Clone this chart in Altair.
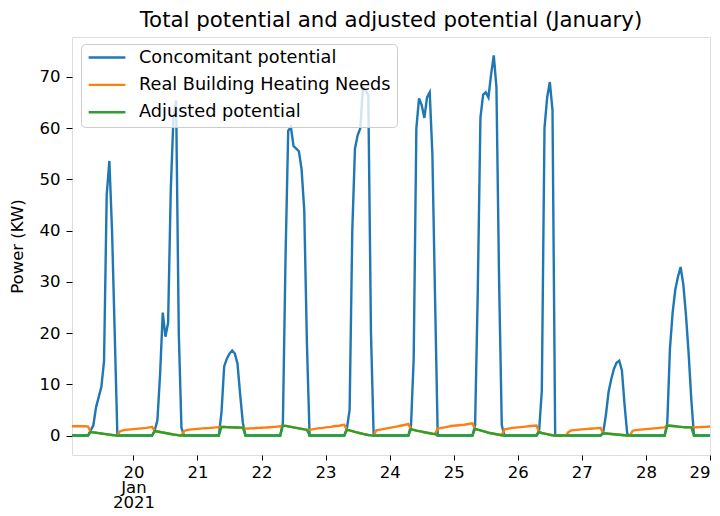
import altair as alt
import pandas as pd

series_names = ["Concomitant potential", "Real Building Heating Needs", "Adjusted potential"]
series_colors = ["#1f77b4", "#ff7f0e", "#2ca02c"]

start_time = "2021-01-19 01:00"

# Hourly values. One row per day: Jan 19 starts at 01:00, Jan 29 only has 00:00.
concomitant = [
    0, 0, 0, 0, 0, 0, 0, 1.0, 2.0, 5.5, 7.5, 9.5, 14.5, 47, 53.6, 40, 20, 0, 0, 0, 0, 0, 0,
    0, 0, 0, 0, 0, 0, 0, 0, 1.0, 3, 12, 24, 19.3, 22, 48, 62, 65.4, 20, 1.5, 0, 0, 0, 0, 0,
    0, 0, 0, 0, 0, 0, 0, 0, 0, 4.5, 13.5, 15, 16, 16.6, 16, 14, 8, 2.5, 0, 0, 0, 0, 0, 0,
    0, 0, 0, 0, 0, 0, 0, 0, 2.5, 35, 59.5, 60.2, 56.5, 56, 55.5, 52, 44, 18, 0, 0, 0, 0, 0, 0,
    0, 0, 0, 0, 0, 0, 0, 0, 1.5, 5, 40, 56, 58.6, 60, 68, 67.4, 66.4, 20, 0, 0, 0, 0, 0, 0,
    0, 0, 0, 0, 0, 0, 0, 0, 2.0, 15, 60, 65.8, 64.5, 62, 66, 67, 55, 27, 0, 0, 0, 0, 0, 0,
    0, 0, 0, 0, 0, 0, 0, 0, 2.0, 28, 62, 66.5, 67, 66, 70.5, 74.2, 68, 30, 2, 0, 0, 0, 0, 0,
    0, 0, 0, 0, 0, 0, 0, 0, 1.0, 8.8, 60, 66, 69, 63.5, 0, 0, 0, 0, 0, 0, 0, 0, 0, 0,
    0, 0, 0, 0, 0, 0, 0, 0, 0.6, 4, 8.5, 11, 13, 14.2, 14.6, 12.7, 6, 0.3, 0, 0, 0, 0, 0, 0,
    0, 0, 0, 0, 0, 0, 0, 0, 2.5, 17, 24, 28.5, 31, 32.9, 29.5, 23.5, 16, 7, 0, 0, 0, 0, 0, 0,
    0,
]

heating_needs = [
    1.8, 1.8, 1.8, 1.8, 1.8, 1.8, 1.75, 0.7, 0.62, 0.55, 0.47, 0.4, 0.32, 0.25, 0.17, 0.1, 0.03, 0.0, 0.85, 1.0, 1.1, 1.15, 1.2,
    1.25, 1.3, 1.35, 1.4, 1.45, 1.5, 1.6, 1.7, 0.85, 0.78, 0.7, 0.6, 0.5, 0.4, 0.3, 0.2, 0.12, 0.05, 0.02, 0.9, 1.05, 1.15, 1.2, 1.25,
    1.3, 1.35, 1.4, 1.42, 1.45, 1.5, 1.55, 1.6, 1.65, 1.68, 1.66, 1.64, 1.62, 1.6, 1.58, 1.56, 1.55, 1.55, 1.35, 1.38, 1.4, 1.43, 1.46, 1.5,
    1.52, 1.55, 1.58, 1.62, 1.66, 1.7, 1.75, 1.8, 1.95, 1.88, 1.8, 1.7, 1.6, 1.5, 1.4, 1.3, 1.2, 1.12, 1.1, 1.2, 1.3, 1.4, 1.45, 1.5,
    1.6, 1.65, 1.7, 1.8, 1.85, 1.9, 2.0, 2.1, 1.1, 1.0, 0.85, 0.7, 0.58, 0.45, 0.32, 0.2, 0.1, 0.04, 0.0, 1.0, 1.1, 1.2, 1.3, 1.4,
    1.5, 1.6, 1.7, 1.8, 1.9, 2.0, 2.1, 2.25, 1.25, 1.1, 0.95, 0.85, 0.75, 0.65, 0.55, 0.45, 0.35, 0.3, 1.35, 1.45, 1.55, 1.65, 1.75, 1.85,
    1.9, 1.95, 2.0, 2.05, 2.1, 2.2, 2.3, 2.4, 1.3, 1.15, 1.0, 0.85, 0.7, 0.55, 0.45, 0.35, 0.25, 0.15, 0.05, 1.2, 1.3, 1.4, 1.5, 1.55,
    1.6, 1.65, 1.7, 1.75, 1.8, 1.85, 1.9, 1.95, 0.65, 0.5, 0.38, 0.26, 0.15, 0.06, 0.0, 0.0, 0.0, 0.0, 0.0, 0.7, 1.0, 1.05, 1.1, 1.15,
    1.2, 1.25, 1.3, 1.33, 1.36, 1.4, 1.45, 1.5, 0.45, 0.4, 0.35, 0.3, 0.25, 0.2, 0.15, 0.1, 0.05, 0.0, 0.0, 0.9, 1.05, 1.1, 1.15, 1.2,
    1.25, 1.3, 1.35, 1.4, 1.45, 1.5, 1.55, 1.6, 1.95, 1.9, 1.85, 1.8, 1.75, 1.7, 1.65, 1.62, 1.6, 1.6, 1.6, 1.62, 1.65, 1.68, 1.7, 1.72,
    1.75,
]

adjusted = [
    0, 0, 0, 0, 0, 0, 0, 0.7, 0.62, 0.55, 0.47, 0.4, 0.32, 0.25, 0.17, 0.1, 0.03, 0, 0, 0, 0, 0, 0,
    0, 0, 0, 0, 0, 0, 0, 0, 0.85, 0.78, 0.7, 0.6, 0.5, 0.4, 0.3, 0.2, 0.12, 0.05, 0.02, 0, 0, 0, 0, 0,
    0, 0, 0, 0, 0, 0, 0, 0, 0, 1.68, 1.66, 1.64, 1.62, 1.6, 1.58, 1.56, 1.55, 1.55, 0, 0, 0, 0, 0, 0,
    0, 0, 0, 0, 0, 0, 0, 0, 1.95, 1.88, 1.8, 1.7, 1.6, 1.5, 1.4, 1.3, 1.2, 1.12, 0, 0, 0, 0, 0, 0,
    0, 0, 0, 0, 0, 0, 0, 0, 1.1, 1.0, 0.85, 0.7, 0.58, 0.45, 0.32, 0.2, 0.1, 0.04, 0, 0, 0, 0, 0, 0,
    0, 0, 0, 0, 0, 0, 0, 0, 1.25, 1.1, 0.95, 0.85, 0.75, 0.65, 0.55, 0.45, 0.35, 0.3, 0, 0, 0, 0, 0, 0,
    0, 0, 0, 0, 0, 0, 0, 0, 1.3, 1.15, 1.0, 0.85, 0.7, 0.55, 0.45, 0.35, 0.25, 0.15, 0.05, 0, 0, 0, 0, 0,
    0, 0, 0, 0, 0, 0, 0, 0, 0.65, 0.5, 0.38, 0.26, 0.15, 0.06, 0, 0, 0, 0, 0, 0, 0, 0, 0, 0,
    0, 0, 0, 0, 0, 0, 0, 0, 0.45, 0.4, 0.35, 0.3, 0.25, 0.2, 0.15, 0.1, 0.05, 0, 0, 0, 0, 0, 0, 0,
    0, 0, 0, 0, 0, 0, 0, 0, 1.95, 1.9, 1.85, 1.8, 1.75, 1.7, 1.65, 1.62, 1.6, 1.6, 0, 0, 0, 0, 0, 0,
    0,
]

x_tick_days = [20, 21, 22, 23, 24, 25, 26, 27, 28, 29]
y_ticks = [0, 10, 20, 30, 40, 50, 60, 70]

times = pd.date_range(start_time, periods=len(concomitant), freq="h")
frames = []
for name, vals in zip(series_names, [concomitant, heating_needs, adjusted]):
    frames.append(pd.DataFrame({"time": times, "value": vals, "series": name}))
df = pd.concat(frames, ignore_index=True)

FONT = "DejaVu Sans"

color = alt.Color(
    "series:N",
    scale=alt.Scale(domain=series_names, range=series_colors),
    legend=alt.Legend(
        title=None,
        orient="none",
        legendX=9,
        legendY=7,
        symbolType="stroke",
        symbolSize=1350,
        symbolStrokeWidth=2.4,
        clipHeight=15,
        labelFontSize=17.7,
        labelFont=FONT,
        labelColor="black",
        labelLimit=0,
        padding=6,
        rowPadding=8.4,
        labelOffset=12,
        fillColor="rgba(255,255,255,0.8)",
        strokeColor="#cccccc",
        cornerRadius=4,
    ),
)

x = alt.X(
    "time:T",
    scale=alt.Scale(
        domain=[
            alt.DateTime(year=2021, month=1, date=19, hours=1),
            alt.DateTime(year=2021, month=1, date=29),
        ],
        nice=False,
    ),
    axis=alt.Axis(
        title=None,
        values=[alt.DateTime(year=2021, month=1, date=d) for d in x_tick_days],
        labelExpr="timeFormat(datum.value, '%d') == '20' ? ['20', 'Jan', '2021'] : timeFormat(datum.value, '%d')",
        labelLineHeight=15,
        labelBaseline="top",
        grid=False,
        domain=False,
        tickSize=5,
        tickColor="black",
        labelPadding=4,
        labelFontSize=16.5,
        labelFont=FONT,
        labelColor="black",
        labelAngle=0,
        labelOverlap=False,
    ),
)

y = alt.Y(
    "value:Q",
    scale=alt.Scale(domain=[-3.8, 77.8], nice=False, zero=False),
    axis=alt.Axis(
        title="Power (KW)",
        values=y_ticks,
        grid=False,
        domain=False,
        tickSize=6,
        tickColor="black",
        labelPadding=6,
        labelFontSize=16.5,
        labelFont=FONT,
        labelColor="black",
        titleFontSize=16.5,
        titleFont=FONT,
        titleFontWeight="normal",
        titleColor="black",
        titleAngle=-90,
        titleX=-55,
        titleY=209,
        titleAlign="center",
        titleBaseline="middle",
    ),
)

layers = []
for name in series_names:
    layers.append(
        alt.Chart(df)
        .transform_filter(alt.datum.series == name)
        .mark_line(strokeWidth=2.4)
        .encode(x=x, y=y, color=color)
    )

chart = (
    alt.layer(*layers)
    .properties(
        width=638,
        height=418,
        title=alt.TitleParams(
            "Total potential and adjusted potential (January)",
            fontSize=21.3,
            fontWeight="normal",
            font=FONT,
            color="black",
            anchor="middle",
            frame="group",
            baseline="alphabetic",
            offset=11,
            dy=22,
        ),
        autosize=alt.AutoSizeParams(type="none"),
        padding={"left": 64, "top": 29, "right": 2, "bottom": 53},
    )
    .configure_view(stroke="black", strokeWidth=1.2)
    .configure(font=FONT, background="white")
)

chart.save("out.html", embed_options={"renderer": "svg", "actions": False})
